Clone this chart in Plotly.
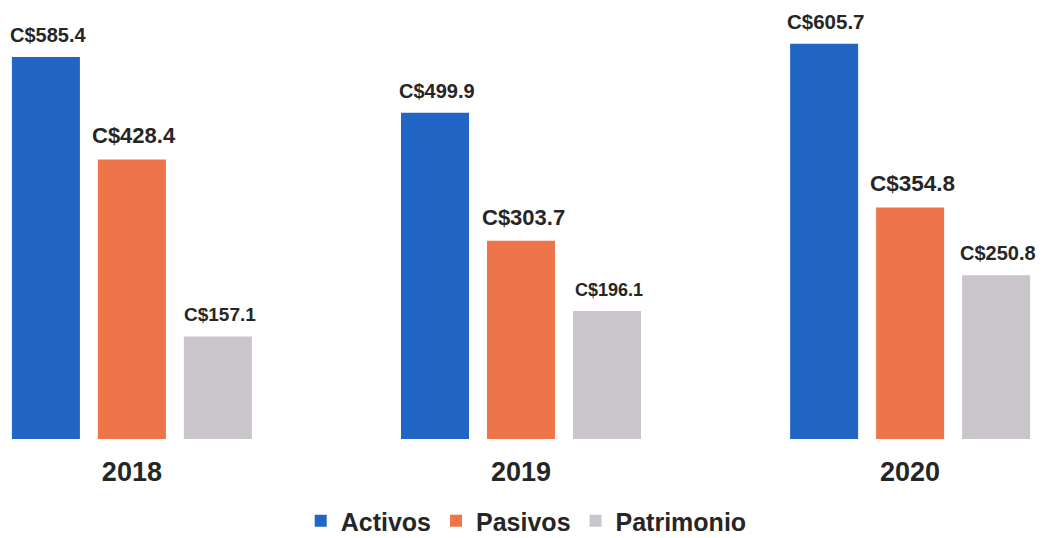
import plotly.graph_objects as go

years = ["2018", "2019", "2020"]
activos = [585.4, 499.9, 605.7]
pasivos = [428.4, 303.7, 354.8]
patrimonio = [157.1, 196.1, 250.8]

series_names = ["Activos", "Pasivos", "Patrimonio"]
series_values = [activos, pasivos, patrimonio]
colors = ["#2166C4", "#EE7549", "#C9C5CB"]
label_sizes = [[20, 20, 20.5], [22, 22, 22.5], [19, 18, 20]]

FONT = "Liberation Sans, Arial"
TXT = "#262626"
bargap = 0.337
bargroupgap = 0.209

fig = go.Figure()
for name, vals, color in zip(series_names, series_values, colors):
    fig.add_trace(go.Bar(
        name=name, x=years, y=vals,
        marker=dict(color=color, line=dict(width=0)),
        hoverinfo="x+y+name",
    ))

# value labels above each bar, positioned in data space from the group layout
n = len(series_names)
slot = (1 - bargap) / n
annotations = []
for j, (vals, sizes) in enumerate(zip(series_values, label_sizes)):
    off = (j - (n - 1) / 2) * slot
    for i, v in enumerate(vals):
        annotations.append(dict(
            x=i + off, y=v, xref="x", yref="y",
            text=f"C${v:.1f}", showarrow=False,
            xanchor="center", yanchor="bottom", yshift=9, xshift=2,
            font=dict(family=FONT, size=sizes[i], color=TXT, weight="bold"),
        ))

fig.update_layout(
    width=1042, height=538,
    margin=dict(l=0, r=0, t=0, b=99, autoexpand=False),
    paper_bgcolor="white", plot_bgcolor="white",
    barmode="group", bargap=bargap, bargroupgap=bargroupgap,
    font=dict(family=FONT, color=TXT),
    xaxis=dict(type="category", range=[-0.339, 2.339], showgrid=False, showline=False,
               zeroline=False, ticks="", ticklabelstandoff=14,
               tickfont=dict(size=27, color=TXT, weight="bold")),
    yaxis=dict(range=[0, 672.7], visible=False),
    legend=dict(orientation="h", x=0.505, xanchor="center", y=-0.1868, yanchor="middle",
                font=dict(size=25, color=TXT, weight="bold"),
                traceorder="normal", itemsizing="constant"),
    showlegend=True,
    annotations=annotations,
)

fig.write_html("out.html",
               config={"displayModeBar": False},
               post_script="document.body.style.margin='0';document.body.style.overflow='hidden';")
